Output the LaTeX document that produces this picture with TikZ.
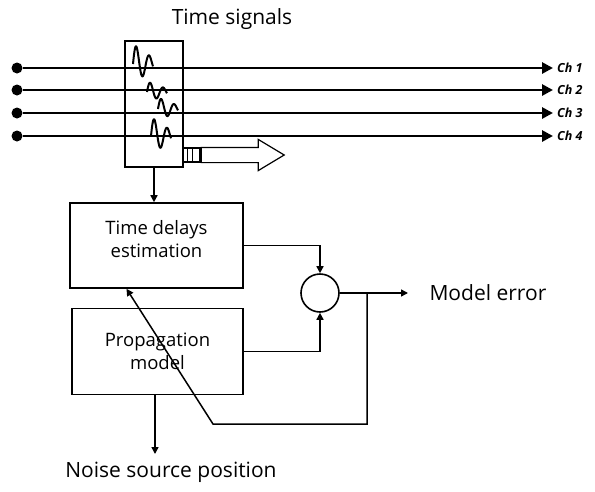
\documentclass[tikz,border=0pt]{standalone}
\usepackage{fontspec}
\setmainfont{Open Sans}
\usetikzlibrary{positioning, calc, arrows.meta, shapes.arrows}

\begin{document}
\begin{tikzpicture}[
  x=1pt, y=-1pt,
  node distance = 19pt and 20pt,
  >={Triangle[length=7pt,width=7pt]},
  blockNode/.style  ={rectangle, draw=black, line width=1.6pt, minimum width=173pt, minimum height=85pt, text centered, align=center, font=\fontsize{18.5}{23}\selectfont},
  signalNode/.style ={rectangle, draw=black, line width=1.6pt, minimum width=58pt, minimum height=126pt},
  sumNode/.style    ={circle, draw=black, line width=1.6pt, minimum size=38pt, inner sep=0pt},
  dotNode/.style    ={circle, fill=black, minimum size=11pt, inner sep=0pt},
  chLabel/.style    ={anchor=west, inner sep=1pt, font=\fontsize{12.5}{14}\selectfont\bfseries\itshape},
  bigLabel/.style   ={font=\fontsize{21}{25}\selectfont},
  chArrow/.style    ={->, line width=2.8pt, >={Triangle[length=11pt,width=11pt]}},
  arrow/.style      ={->, line width=1.5pt},
  waveLine/.style   ={line width=2pt, line join=round}
]

\useasboundingbox (0,0) rectangle (595,491);

% ================== TIME SIGNALS ==================
\node[bigLabel] (TITLE) at (232,19) {Time signals};
\node[signalNode] (SIG) at (154,104) {};

% four wavelets, one per channel
\foreach \wx/\wy/\wa in {133/64/21, 147/92/11, 158/109/12, 151/136/20}{
  \draw[waveLine] plot[smooth, domain=0:1, samples=40]
    ({\wx+20*\x}, {\wy-\wa*exp(-1.1*\x)*sin(560*\x)});
}

% ================== CHANNELS ==================
\foreach \i/\y in {1/68, 2/90, 3/113, 4/136}{
  \node[dotNode] (DOT\i) at (17,\y) {};
  \node[chLabel] (CH\i) at (556,\y) {Ch \i};
  \draw[chArrow] (DOT\i) -- ([xshift=-3pt]CH\i.west);
}

% output plug + hollow arrow
\node[rectangle, draw=black, line width=1.2pt, minimum width=17pt, minimum height=14pt, inner sep=0pt] (PLUG) at (191.5,155) {};
\draw[line width=1.2pt] ([xshift=5pt]PLUG.north west) -- ([xshift=5pt]PLUG.south west)
                        ([xshift=10pt]PLUG.north west) -- ([xshift=10pt]PLUG.south west);
\node[single arrow, draw=black, line width=1.2pt, minimum height=83pt, inner xsep=0pt, inner ysep=7pt,
      single arrow head extend=8pt, single arrow tip angle=62, anchor=west] (OUT) at (PLUG.east) {};

% ================== PROCESSING BLOCKS ==================
\node[blockNode] (TDE) at (156.5,245.5) {Time delays\\estimation\\[-9pt]};
\node[blockNode, below=of TDE, minimum width=171pt, minimum height=86pt, xshift=1pt] (PROP) {Propagation\\model};
\node[sumNode] (SUM) at (320,293) {};

\draw[arrow] (SIG.south) -- (SIG.south |- TDE.north);
\draw[arrow] (TDE.east) -| (SUM.north);
\draw[arrow] (PROP.east) -| (SUM.south);

% ================== OUTPUTS ==================
\node[bigLabel, anchor=west] (ERR) at (426,293) {Model error};
\coordinate (errEnd) at (408,293);
\draw[arrow] (SUM.east) -- (errEnd);

\node[bigLabel] (NOISE) at (171,472) {Noise source position};
\coordinate (noiseEnd) at (155,454);
\draw[arrow] (PROP.south -| noiseEnd) -- (noiseEnd);

% feedback loop back to the delay estimator
\coordinate (tap) at (367,293);
\coordinate (fbCorner) at (213,424);
\draw[arrow] (tap) |- (fbCorner) -- ([xshift=-30pt]TDE.south);

\end{tikzpicture}
\end{document}
